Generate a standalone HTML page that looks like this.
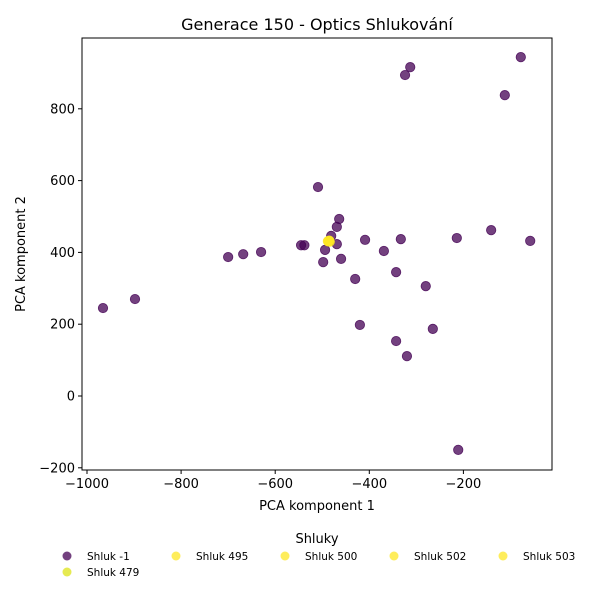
<!DOCTYPE html>
<html><head><meta charset="utf-8"><style>
body{margin:0;background:#fff;font-family:"Liberation Sans","DejaVu Sans",sans-serif}
</style></head><body>
<svg id="chart" width="600" height="600" xmlns="http://www.w3.org/2000/svg" font-family="DejaVu Sans, Liberation Sans, sans-serif">
<rect width="600" height="600" fill="#fff"/>
<text x="317" y="30" text-anchor="middle" font-size="16">Generace 150 - Optics Shlukování</text>
<g id="plot"></g>
<rect x="82" y="38" width="470" height="432" fill="none" stroke="#000" stroke-width="1"/>
<text x="317" y="510" text-anchor="middle" font-size="13">PCA komponent 1</text>
<text x="25" y="254" text-anchor="middle" font-size="13" transform="rotate(-90 25 254)">PCA komponent 2</text>
<g id="legend">
<text x="317" y="543" text-anchor="middle" font-size="13">Shluky</text>
</g>
</svg>
<script>
const noiseX=[-966,-898,-700,-668,-630,-545,-538,-509,-498,-494,-481,-469,-464,-469,-460,-430,-420,-409,-369,-343,-343,-333,-320,-324,-313,-280,-265,-211,-214,-141,-112,-78,-58];
const noiseY=[245,270,387,395,401,420,420,582,373,407,446,471,493,423,382,326,198,435,404,345,153,437,111,894,916,306,187,-150,440,462,838,944,432];
const clusterX=[-486,-484,-488,-485,-487];
const clusterY=[432,430,431,433,431];
const xTicks=[-1000,-800,-600,-400,-200];
const yTicks=[-200,0,200,400,600,800];
const legendLabels=["Shluk -1","Shluk 495","Shluk 500","Shluk 502","Shluk 503","Shluk 479"];
const legendColors=["#440154","#fde725","#fde725","#fde725","#fde725","#dde318"];
const NS="http://www.w3.org/2000/svg";
function sx(v){return 87+(v+1000)*0.4705;}
function sy(v){return 396-v*0.359;}
const svg=document.getElementById('chart');
const plot=document.getElementById('plot');
function mk(tag,attrs,parent){const e=document.createElementNS(NS,tag);for(const k in attrs)e.setAttribute(k,attrs[k]);parent.appendChild(e);return e;}
xTicks.forEach(t=>{const x=sx(t);
 const l=mk('line',{x1:x,x2:x,y1:470,y2:474,stroke:'#000'},svg);
 
 
 const tx=mk('text',{x:x,y:488,'text-anchor':'middle','font-size':'13'},svg);tx.textContent=t.toString().replace('-','−');
 
 });
yTicks.forEach(t=>{const y=sy(t);
 const l=mk('line',{x1:78,x2:82,y1:y,y2:y,stroke:'#000'},svg);
 
 
 const tx=mk('text',{x:75,y:y+4.5,'text-anchor':'end','font-size':'13'},svg);tx.textContent=t.toString().replace('-','−');
 
 });
noiseX.forEach((v,i)=>{const c=mk('circle',{cx:sx(v),cy:sy(noiseY[i]),r:4.7,fill:'#440154','fill-opacity':0.75,stroke:'#440154','stroke-opacity':0.8,'stroke-width':0.8},plot);
 
 });
clusterX.forEach((v,i)=>{const c=mk('circle',{cx:sx(v),cy:sy(clusterY[i]),r:4.7,fill:'#fde725','fill-opacity':0.75,stroke:'#fde725','stroke-opacity':0.8,'stroke-width':0.8},plot);
 
 });
const lg=document.getElementById('legend');
legendLabels.forEach((lab,i)=>{const col=i<5?i:0,row=i<5?0:1;const x=67+col*109,y=556+row*16;
 const c=mk('circle',{cx:x,cy:y,r:4.5,fill:legendColors[i],'fill-opacity':0.75},lg);
 
 
 const t=mk('text',{x:x+20,y:y+4,'font-size':'10.5'},lg);t.textContent=lab;
 
 });
</script>
</body></html>
